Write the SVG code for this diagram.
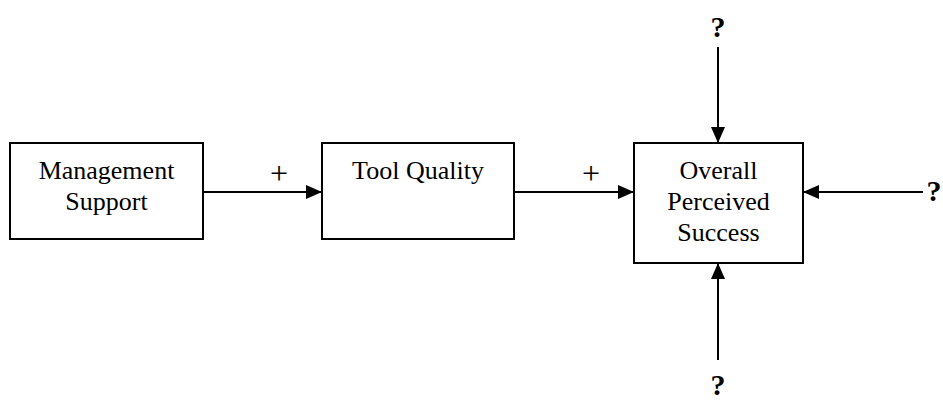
<svg xmlns="http://www.w3.org/2000/svg" width="943" height="401" viewBox="0 0 943 401">
<style>
.box{fill:#fff;stroke:#000;stroke-width:2}
.t{font-family:"Liberation Serif","Times New Roman",serif;font-size:26px;text-anchor:middle;fill:#000}
.p{font-family:"Liberation Serif","Times New Roman",serif;font-size:32px;text-anchor:middle;fill:#000}
.q{font-family:"Liberation Serif","Times New Roman",serif;font-size:30px;font-weight:bold;text-anchor:middle;fill:#000}
.c{stroke:#000;stroke-width:2;fill:none;marker-end:url(#ah)}
</style>
<defs>
<marker id="ah" markerUnits="userSpaceOnUse" markerWidth="16" markerHeight="14" refX="16" refY="7" orient="auto">
<path d="M0,0 L16,7 L0,14 Z" fill="#000"/>
</marker>
</defs>
<rect width="943" height="401" fill="#fff"/>
<g id="connectors">
<line class="c" x1="203" y1="192" x2="322" y2="192"/>
<line class="c" x1="514" y1="192" x2="634" y2="192"/>
<line class="c" x1="718" y1="47" x2="718" y2="143"/>
<line class="c" x1="923" y1="192" x2="803" y2="192"/>
<line class="c" x1="718" y1="360" x2="718" y2="263"/>
<text class="p" x="279" y="184">+</text>
<text class="p" x="591" y="184">+</text>
<text class="q" x="718" y="37">?</text>
<text class="q" x="934" y="201">?</text>
<text class="q" x="718" y="395">?</text>
</g>
<g id="management-support">
<rect class="box" x="10" y="143" width="193" height="96"/>
<text class="t" x="106.5" y="179">Management</text>
<text class="t" x="106.5" y="210">Support</text>
</g>
<g id="tool-quality">
<rect class="box" x="322" y="143" width="192" height="96"/>
<text class="t" x="418" y="179">Tool Quality</text>
</g>
<g id="overall-perceived-success">
<rect class="box" x="634" y="143" width="169" height="120"/>
<text class="t" x="718.5" y="179">Overall</text>
<text class="t" x="718.5" y="210">Perceived</text>
<text class="t" x="718.5" y="241">Success</text>
</g>
</svg>
